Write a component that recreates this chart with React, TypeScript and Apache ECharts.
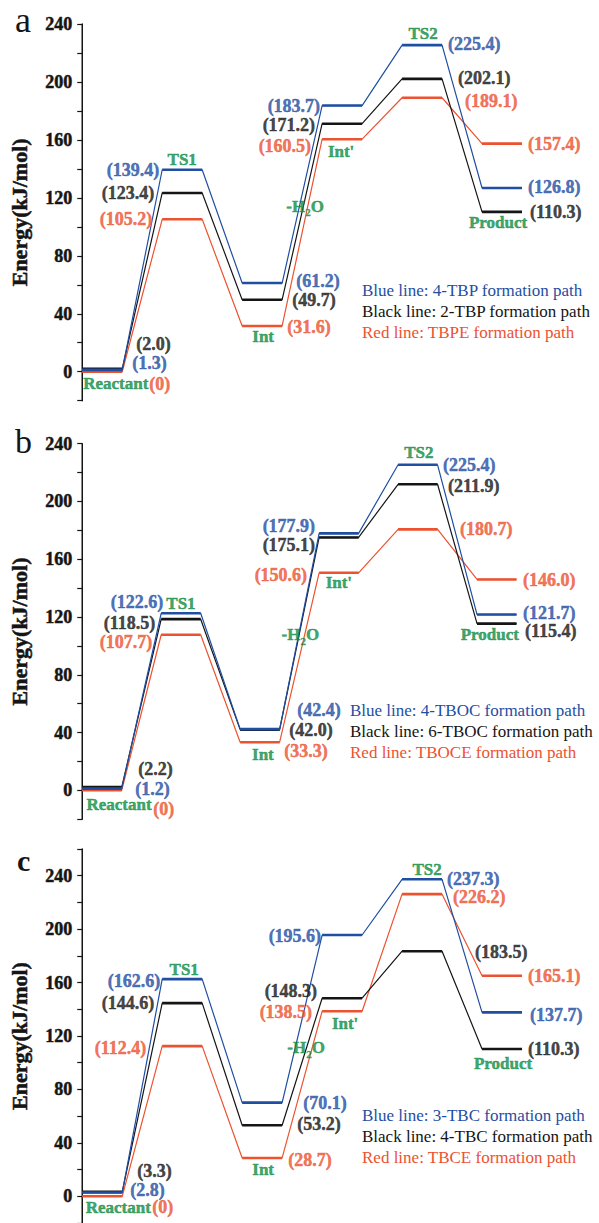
import React, { useEffect, useRef } from 'react';
import * as echarts from 'echarts';

// ---------- data ----------
const stateNames = ['Reactant', 'TS1', 'Int', "Int'", 'TS2', 'Product'];
const yTickLabels = [0, 40, 80, 120, 160, 200, 240];

// panel a
const aBlue = [1.3, 139.4, 61.2, 183.7, 225.4, 126.8];
const aBlack = [2.0, 123.4, 49.7, 171.2, 202.1, 110.3];
const aRed = [0, 105.2, 31.6, 160.5, 189.1, 157.4];
const aLegend = ['Blue line: 4-TBP formation path', 'Black line: 2-TBP formation path', 'Red line: TBPE formation path'];

// panel b
const bBlue = [1.2, 122.6, 42.4, 177.9, 225.4, 121.7];
const bBlack = [2.2, 118.5, 42.0, 175.1, 211.9, 115.4];
const bRed = [0, 107.7, 33.3, 150.6, 180.7, 146.0];
const bLegend = ['Blue line: 4-TBOC formation path', 'Black line: 6-TBOC formation path', 'Red line: TBOCE formation path'];

// panel c
const cBlue = [2.8, 162.6, 70.1, 195.6, 237.3, 137.7];
const cBlack = [3.3, 144.6, 53.2, 148.3, 183.5, 110.3];
const cRed = [0, 112.4, 28.7, 138.5, 226.2, 165.1];
const cLegend = ['Blue line: 3-TBC formation path', 'Black line: 4-TBC formation path', 'Red line: TBCE formation path'];

const panelLetters = ['a', 'b', 'c'];

// ---------- layout / style (kept apart from data) ----------
const FONT = "'Liberation Serif', 'Times New Roman', serif";
const COLORS = ['#1f4ea3', '#151515', '#ec5230'];
const GREEN = '#0e8d45';
const levelSide = ['right', 'left', 'right', 'left', 'right', 'right'];
const STROKE = 0.5;

const layouts = [
  { top: 24, height: 376.7, width: 480, yMin: -20, yMax: 240, letter: [15, 24, 36, 'normal'], legendX: 362, legendY: [290, 311, 332] },
  { top: 443.7, height: 375.5, width: 474, yMin: -20, yMax: 240, letter: [15, 445, 34, 'normal'], legendX: 350, legendY: [710, 731, 752] },
  { top: 849, height: 377, width: 480, yMin: -20, yMax: 260, letter: [17, 863, 30, 'bold'], legendX: 362, legendY: [1115, 1136, 1157] },
];

// value-label offsets [dx, dy] per path (blue, black, red) per state
const aOffs = [
  [[10, -7], [-3, 0], [14, -2], [-2, 0], [6, -1], [6, -1]],
  [[14, -25], [-8, 0], [10, 0], [-7, 1], [16, -1], [8, 0]],
  [[27, 12], [-10, 0], [5, 1], [-11, 7], [23, 3], [6, 0]],
];
const bOffs = [
  [[13.5, 0], [2, -11], [17.5, -19], [-4, -7], [5.5, 0], [6.5, -2]],
  [[16.5, -18], [-6, 4], [9.5, 0], [-4, 8], [10.5, 2], [8.5, 7]],
  [[31.5, 19], [-9, 7], [4.5, 9], [-12, 2], [22.5, 0], [6.5, 1]],
];
const cOffs = [
  [[8, -3], [-2, 2], [21, 0], [-1, 1], [5, 0], [8, 3]],
  [[15, -21], [-8, 0], [15, -1], [-5, -7], [33, 1], [6, 0]],
  [[30, 11], [-16, 2], [6, 2], [-10, 1], [11, 3], [6, 0]],
];
// state-label anchor [pathIndex, dx, dy]
const aStateOffs = [[2, 13.5, 12], [0, 0, -10], [2, 1, 11], [2, -1, 12], [0, 1, -12], [1, -4, 11]];
const bStateOffs = [[2, 17, 14], [0, 0, -10], [2, 3, 12], [2, 0, 10], [0, 1, -12], [1, -7, 11]];
const cStateOffs = [[2, 16, 11], [0, 2, -10], [2, 1, 12], [2, 3, 12], [0, 5, -10], [1, 1, 15]];
const h2oOffs = [[3, 102], [1, 103], [4, 114]];

const panels = [
  { paths: [aBlue, aBlack, aRed], offs: aOffs, stateOffs: aStateOffs, legend: aLegend },
  { paths: [bBlue, bBlack, bRed], offs: bOffs, stateOffs: bStateOffs, legend: bLegend },
  { paths: [cBlue, cBlack, cRed], offs: cOffs, stateOffs: cStateOffs, legend: cLegend },
];

function fmt(v: number) {
  return v === 0 ? '(0)' : '(' + v.toFixed(1) + ')';
}

function buildOption() {
  const grid: any[] = [];
  const xAxis: any[] = [];
  const yAxis: any[] = [];
  const series: any[] = [];
  const graphic: any[] = [];

  panels.forEach((p, k) => {
    const L = layouts[k];
    grid.push({ left: 82, top: L.top, width: L.width, height: L.height });
    xAxis.push({ type: 'value', gridIndex: k, min: 0, max: 12, show: false });
    yAxis.push({
      type: 'value',
      gridIndex: k,
      min: L.yMin,
      max: L.yMax,
      interval: 20,
      name: 'Energy(kJ/mol)',
      nameLocation: 'middle',
      nameGap: 52,
      nameTextStyle: { fontFamily: FONT, fontWeight: 'bold', fontSize: 22, color: '#151515', textBorderColor: '#151515', textBorderWidth: STROKE },
      axisLine: { show: true, lineStyle: { color: '#151515', width: 1.5 } },
      axisTick: { show: true, length: 5, lineStyle: { color: '#151515', width: 1.2 } },
      axisLabel: {
        formatter: (v: number) => (yTickLabels.includes(v) ? String(v) : ''),
        margin: 10,
        fontFamily: FONT,
        fontWeight: 'bold',
        fontSize: 18,
        color: '#151515',
        textBorderColor: '#151515',
        textBorderWidth: STROKE,
      },
      splitLine: { show: false },
    });

    [2, 1, 0].forEach((j) => {
      const vals = p.paths[j];
      const thin: any[] = [];
      const thick: any[] = [];
      vals.forEach((v, i) => {
        thin.push([2 * i, v], [2 * i + 1, v]);
        thick.push([2 * i, v], [2 * i + 1, v], [2 * i + 1.5, '-']);
      });
      series.push({
        type: 'line', xAxisIndex: k, yAxisIndex: k, data: thin, symbol: 'none', silent: true,
        lineStyle: { color: COLORS[j], width: 1.2 },
      });
      series.push({
        type: 'line', xAxisIndex: k, yAxisIndex: k, data: thick, symbol: 'none', silent: true,
        connectNulls: false,
        lineStyle: { color: COLORS[j], width: 2.6 },
      });
    });

    const items: any[] = [];
    p.paths.forEach((vals, j) => {
      vals.forEach((v, i) => {
        const side = levelSide[i];
        const x = side === 'left' ? 2 * i : 2 * i + 1;
        const off = p.offs[j][i];
        items.push({
          value: [x, v],
          label: {
            formatter: fmt(v),
            offset: [off[0], off[1]],
            align: side === 'left' ? 'right' : 'left',
            color: COLORS[j],
            textBorderColor: COLORS[j],
            textBorderWidth: STROKE,
          },
        });
      });
    });
    stateNames.forEach((name, i) => {
      const so = p.stateOffs[i];
      items.push({
        value: [2 * i + 0.5, p.paths[so[0]][i]],
        label: {
          formatter: name, offset: [so[1], so[2]], align: 'center', color: GREEN, fontSize: 17, fontWeight: 'bold',
          textBorderColor: GREEN, textBorderWidth: STROKE,
        },
      });
    });
    items.push({
      value: [5.5, p.paths[0][3]],
      label: {
        formatter: '{t|-H}{s|2}{t|O}',
        offset: h2oOffs[k],
        align: 'center',
        color: GREEN,
        fontWeight: 'bold',
        fontSize: 17,
        rich: {
          t: { fontFamily: FONT, fontWeight: 'bold', fontSize: 17, color: GREEN, lineHeight: 20, verticalAlign: 'top', textBorderColor: GREEN, textBorderWidth: STROKE },
          s: { fontFamily: FONT, fontWeight: 'bold', fontSize: 11, color: GREEN, lineHeight: 20, verticalAlign: 'bottom', textBorderColor: GREEN, textBorderWidth: 0.3 },
        },
      },
    });
    series.push({
      type: 'scatter', xAxisIndex: k, yAxisIndex: k, symbolSize: 0, silent: true, z: 5,
      label: {
        show: true, position: 'inside', verticalAlign: 'middle',
        fontFamily: FONT, fontWeight: 'bold', fontSize: 18,
      },
      data: items,
    });

    graphic.push({
      type: 'text', left: L.letter[0], top: (L.letter[1] as number) - (L.letter[2] as number) * 0.6,
      style: { text: panelLetters[k], font: `${L.letter[3]} ${L.letter[2]}px ${FONT}`, fill: '#151515' },
    });
    p.legend.forEach((t, j) => {
      graphic.push({
        type: 'text', x: L.legendX, y: L.legendY[j],
        style: { text: t, font: `17px ${FONT}`, fill: COLORS[j], verticalAlign: 'middle', align: 'left' },
      });
    });
  });

  return { animation: false, grid, xAxis, yAxis, series, graphic };
}

export default function App() {
  const ref = useRef<HTMLDivElement>(null);
  useEffect(() => {
    if (!ref.current) return;
    const chart = echarts.init(ref.current, undefined, { renderer: 'svg' });
    chart.setOption(buildOption() as any);
    return () => chart.dispose();
  }, []);
  return <div ref={ref} style={{ position: 'absolute', left: 0, top: 0, width: 599, height: 1223, background: '#fff' }} />;
}
